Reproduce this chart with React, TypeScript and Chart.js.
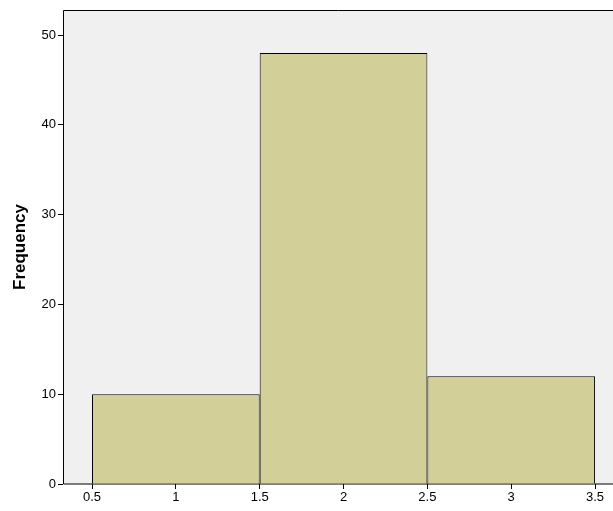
import React, { useEffect, useRef } from 'react';
import Chart from 'chart.js/auto';

const binCenters = [1, 2, 3];
const frequencies = [10, 48, 12];
const xTicks = [0.5, 1, 1.5, 2, 2.5, 3, 3.5];

const bgPlugin = {
  id: 'plotBg',
  beforeDraw(chart: any) {
    const { ctx, chartArea: a } = chart;
    ctx.save();
    ctx.fillStyle = '#F0F0F0';
    ctx.fillRect(a.left, a.top, a.right - a.left, a.bottom - a.top);
    ctx.strokeStyle = '#000';
    ctx.lineWidth = 1;
    ctx.beginPath();
    ctx.moveTo(a.right, a.top + 0.5);
    ctx.lineTo(a.left + 0.5, a.top + 0.5);
    ctx.lineTo(a.left + 0.5, a.bottom);
    ctx.lineTo(a.right, a.bottom);
    ctx.stroke();
    ctx.restore();
  },
};

const App: React.FC = () => {
  const canvasRef = useRef<HTMLCanvasElement>(null);

  useEffect(() => {
    document.body.style.margin = '0';
    if (!canvasRef.current) return;
    const chart = new Chart(canvasRef.current, {
      type: 'bar',
      data: {
        datasets: [
          {
            data: binCenters.map((x, i) => ({ x, y: frequencies[i] })),
            backgroundColor: '#D3CF98',
            borderColor: '#000',
            borderWidth: 1,
            barPercentage: 2,
            categoryPercentage: 1,
          },
        ],
      },
      options: {
        animation: false,
        responsive: false,
        layout: { padding: { top: 10, right: 0 } },
        plugins: { legend: { display: false }, tooltip: { enabled: false } },
        scales: {
          x: {
            type: 'linear',
            offset: false,
            min: 0.327,
            max: 3.607,
            afterBuildTicks: (axis: any) => {
              axis.ticks = xTicks.map((v) => ({ value: v }));
            },
            afterFit: (axis: any) => {
              axis.height = 27;
            },
            grid: { drawOnChartArea: false, tickLength: 5, color: '#000', offset: false },
            border: { display: false },
            ticks: { color: '#000', font: { family: 'Arial, Liberation Sans', size: 13 }, padding: 1, callback: (v: any) => String(v) },
          },
          y: {
            min: 0,
            max: 52.8,
            afterBuildTicks: (axis: any) => {
              axis.ticks = [0, 10, 20, 30, 40, 50].map((v) => ({ value: v }));
            },
            afterFit: (axis: any) => {
              axis.width = 63;
            },
            grid: { drawOnChartArea: false, tickLength: 5, color: '#000' },
            border: { display: false },
            ticks: { color: '#000', font: { family: 'Arial, Liberation Sans', size: 13 }, padding: 2 },
            title: {
              display: true,
              text: 'Frequency',
              color: '#000',
              font: { family: 'Arial, Liberation Sans', size: 17, weight: 'bold' },
              padding: { top: 10, bottom: 4 },
            },
          },
        },
      },
      plugins: [bgPlugin],
    });
    return () => chart.destroy();
  }, []);

  return <canvas ref={canvasRef} width={613} height={511} style={{ display: 'block' }} />;
};

export default App;
